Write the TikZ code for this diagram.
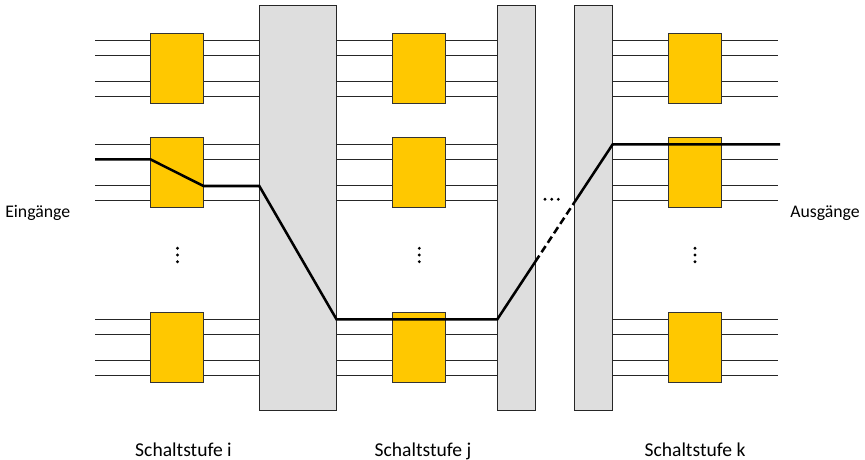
\documentclass[tikz,border=0pt]{standalone}
\usepackage{fontspec}
\setmainfont{Carlito}
\definecolor{unityellow}{HTML}{FFC800}
\definecolor{bargray}{HTML}{DEDEDE}
\begin{document}
\begin{tikzpicture}[x=0.75pt,y=-0.75pt,
  wire/.style={draw=black!85, line width=0.8pt},
  unit/.style={draw=black!80, fill=unityellow, line width=0.7pt, inner sep=0pt, outer sep=0pt,
               minimum width=39.75pt, minimum height=52.9pt, anchor=north west},
  bar/.style={draw=black!85, fill=bargray, line width=0.7pt, inner sep=0pt, outer sep=0pt,
              minimum height=304.05pt, anchor=north west},
  route/.style={draw=black, line width=1.9pt, line join=miter},
  dot/.style={fill=black, circle, inner sep=0pt, minimum size=2.4pt},
  lbl/.style={font=\fontsize{14.7}{17}\selectfont, anchor=base, inner sep=0pt},
  sidelbl/.style={font=\fontsize{13.3}{16}\selectfont, anchor=base west, inner sep=0pt}]
\useasboundingbox (0,0) rectangle (865,460);

% wires of every stage (start x, block x, end x)
\foreach \s/\xa/\xb/\xc in {i/95/150.3/259.3, j/336.5/392.3/497.3, k/612.7/668.3/777.7}{
  \foreach \g/\yt in {1/33.3, 2/137.3, 3/312.3}{
    \foreach \n/\dy in {1/7, 2/22, 3/48.5, 4/63}{
      \coordinate (w-\s-\g-\n-a) at (\xa,\yt+\dy);
      \coordinate (w-\s-\g-\n-b) at (\xc,\yt+\dy);
      \draw[wire] (w-\s-\g-\n-a) -- (w-\s-\g-\n-b);
    }
    \node[unit] (u-\s-\g) at (\xb,\yt) {};
  }
}

% interconnection bars
\node[bar, minimum width=57.9pt] (bar1) at (259.3,5.3) {};
\node[bar, minimum width=28.5pt] (bar2) at (497.3,5.3) {};
\node[bar, minimum width=28.5pt] (bar3) at (574.7,5.3) {};

% vertical ellipses
\foreach \s/\x in {i/177.5, j/419.3, k/695}{
  \node[dot] (v-\s-1) at (\x,248.3) {};
  \node[dot] (v-\s-2) at (\x,255) {};
  \node[dot] (v-\s-3) at (\x,261.7) {};
}
% horizontal ellipsis between bars
\node[dot] (h1) at (545,199.3) {};
\node[dot] (h2) at (551.7,199.3) {};
\node[dot] (h3) at (558.3,199.3) {};

% highlighted route
\coordinate (r0) at (95,159.3);
\coordinate (r1) at (150.3,159.3);
\coordinate (r2) at (203.5,186);
\coordinate (r3) at (259.3,186);
\coordinate (r4) at (336.5,319.3);
\coordinate (r5) at (497.3,319.3);
\coordinate (r6) at (535.3,261.7);
\coordinate (r7) at (574.7,201.9);
\coordinate (r8) at (612.7,144.3);
\coordinate (r9) at (780,144.3);
\draw[route] (r0) -- (r1) -- (r2) -- (r3) -- (r4) -- (r5) -- (r6);
\draw[route, dash pattern=on 5.5pt off 3pt] (r6) -- (r7);
\draw[route] (r7) -- (r8) -- (r9);

% labels
\node[sidelbl] (ein) at (5,217) {Eingänge};
\node[sidelbl] (aus) at (790,217) {Ausgänge};
\node[lbl] (si) at (183.5,456.7) {Schaltstufe i};
\node[lbl] (sj) at (423,456.7) {Schaltstufe j};
\node[lbl] (sk) at (695,456.7) {Schaltstufe k};
\end{tikzpicture}
\end{document}
